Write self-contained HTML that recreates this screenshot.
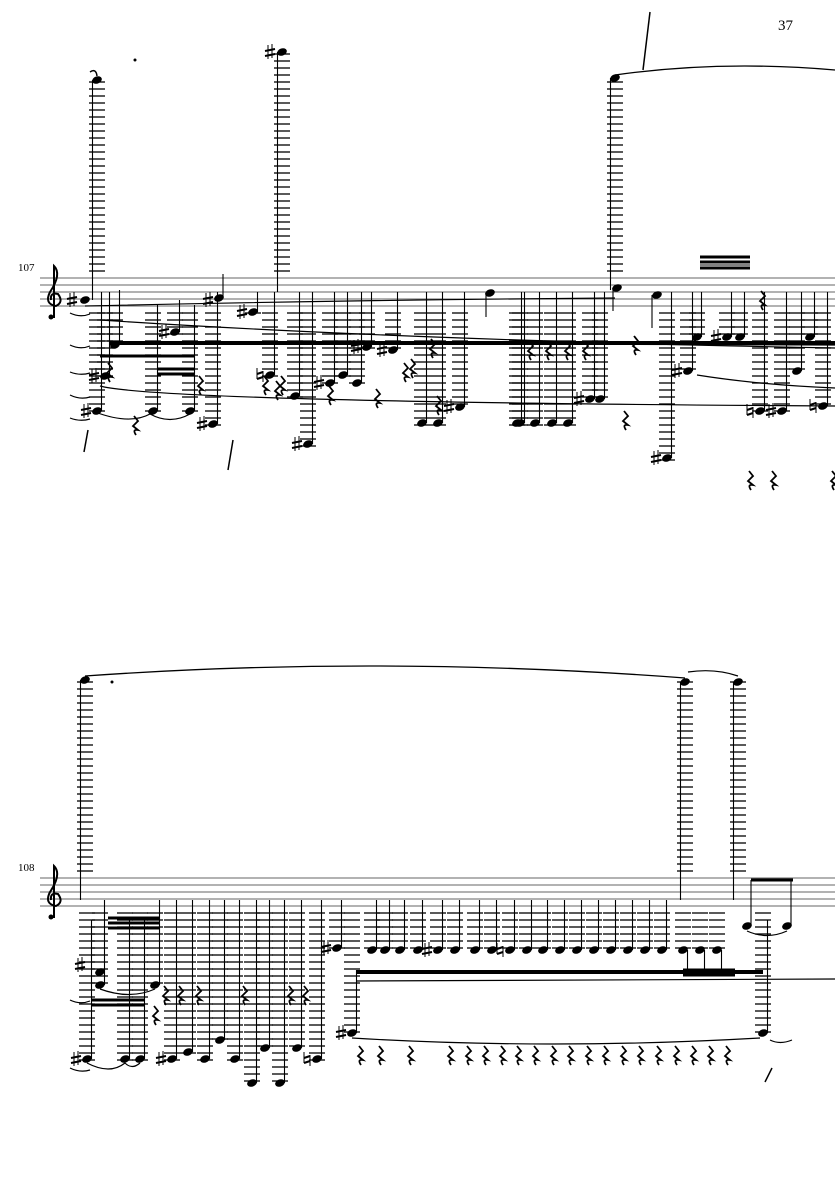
<!DOCTYPE html>
<html><head><meta charset="utf-8"><style>
html,body{margin:0;padding:0;background:#fff}
svg{display:block}
</style></head><body>
<svg id="s" width="835" height="1181" viewBox="0 0 835 1181" xmlns="http://www.w3.org/2000/svg">
<rect width="835" height="1181" fill="#fff"/>
<text x="778" y="30" font-family="Liberation Serif, serif" font-size="15">37</text>
<text x="18" y="271" font-family="Liberation Serif, serif" font-size="11">107</text>
<text x="18" y="871" font-family="Liberation Serif, serif" font-size="11">108</text>
<g id="g"></g>
</svg>
<script>
var g=document.getElementById('g'),out='';
function L(x1,y1,x2,y2,w,c){out+='<line x1="'+x1+'" y1="'+y1+'" x2="'+x2+'" y2="'+y2+'" stroke="'+(c||'#000')+'" stroke-width="'+(w||1)+'"/>';}
function P(d,w,f){out+='<path d="'+d+'" fill="'+(f||'none')+'" stroke="#000" stroke-width="'+(w||1)+'"/>';}
function head(x,y){out+='<ellipse cx="'+x+'" cy="'+y+'" rx="5" ry="3.6" transform="rotate(-20 '+x+' '+y+')" fill="#000"/>';}
function sharp(x,y){L(x-2,y-7,x-2,y+7,1);L(x+2,y-8,x+2,y+6,1);L(x-5,y-1,x+5,y-3,2);L(x-5,y+4,x+5,y+2,2);}
function nat(x,y){L(x-3,y-7,x-3,y+4,1);L(x+3,y-4,x+3,y+7,1);L(x-3,y-1,x+3,y-3,2);L(x-3,y+4,x+3,y+2,2);}
function rest(x,y){P('M'+(x-1)+' '+(y-9)+' L'+(x+3)+' '+(y-4)+' L'+(x-2)+' '+(y+1)+' L'+(x+3)+' '+(y+5)+' Q'+(x-3)+' '+(y+4)+' '+(x+1)+' '+(y+10),1.8);}
function staff(y0){for(var i=0;i<5;i++)L(40,y0+i*7,835,y0+i*7,1,'#666');
 // clef
 var cx=52;P('M'+(cx+2)+' '+(y0+40)+' L'+(cx+2)+' '+(y0-12)+' Q'+(cx+10)+' '+(y0-4)+' '+(cx-2)+' '+(y0+14)+' Q'+(cx-8)+' '+(y0+26)+' '+(cx+4)+' '+(y0+28)+' Q'+(cx+12)+' '+(y0+24)+' '+(cx+6)+' '+(y0+16)+' Q'+(cx-2)+' '+(y0+14)+' '+(cx-1)+' '+(y0+22),2);
 out+='<circle cx="'+(cx-1)+'" cy="'+(y0+39)+'" r="2.5"/>';}
// low note with ledger lines below staff, stem up
function low(x,y,top,st,acc,bot){var b=bot||(st+28);for(var ly=b+7;ly<=y+2;ly+=7)L(x-8,ly,x+8,ly,1.3);head(x,y);L(x+4.5,y,x+4.5,top,1.1);if(acc=='#')sharp(x-11,y);if(acc=='n')nat(x-10,y);}
function high(x,y,st,bot,acc){for(var ly=st-7;ly>=y-2;ly-=7)L(x-8,ly,x+8,ly,1.3);head(x,y);L(x-4.5,y,x-4.5,bot,1.1);if(acc=='#')sharp(x-12,y);}
var S1=278,S2=878;
staff(S1);staff(S2);
// ===== system 1 =====
high(97,80,S1,300);high(282,52,S1,292,'#');high(615,78,S1,290);
P('M90 72 Q96 68 97 76',1.5);
out+='<circle cx="135" cy="60" r="1.5"/>';
var n1=[[97,411,292,'#'],[105,376,292,'#'],[115,345,290,''],[153,411,305,''],[175,332,300,'#'],[190,411,305,''],[213,424,292,'#'],[253,312,292,'#'],[270,375,292,'n'],[295,396,292,''],[308,444,292,'#'],[330,383,292,'#'],[343,375,292,''],[357,383,292,''],[367,347,292,'#'],[393,350,292,'#'],[422,423,292,''],[438,423,292,''],[460,407,292,'#'],[517,423,292,''],[520,423,292,''],[535,423,292,''],[552,423,292,''],[568,423,292,''],[590,399,292,'#'],[600,399,292,''],[667,458,292,'#'],[688,371,292,'#'],[697,337,292,''],[727,337,292,'#'],[740,337,292,''],[760,411,292,'n'],[782,411,292,'#'],[797,371,292,''],[810,337,292,''],[823,406,292,'n']];
n1.forEach(function(n){low(n[0],n[1],n[2],S1,n[3]);});
head(219,298);L(223,298,223,274,1.1);sharp(208,300);
head(490,293);L(486,293,486,317,1.1);head(617,288);L(613,288,613,311,1.1);
head(85,300);sharp(72,300);
head(657,295);L(652,295,652,328,1.1);
// beams & slurs sys1
L(110,343,835,343,4);L(100,356,195,356,3);L(158,369,195,369,3);L(158,374,195,374,3);
L(160,343,835,345,1.2);
P('M85 306 Q350 300 615 298',1.2);P('M100 320 Q400 340 835 348',1.2);
P('M100 386 Q160 402 835 406',1.2);P('M697 375 Q760 385 835 388',1.2);
P('M615 75 Q720 60 835 70',1.3);P('M95 412 Q130 425 150 414 Q170 425 190 414',1.2);
L(700,265,750,265,1);L(700,262,750,262,3);L(700,257,750,257,3);L(700,268,750,268,3);
P('M70 313 Q80 318 90 314',1.2);P('M70 345 Q80 350 90 346',1.2);P('M70 372 Q80 376 90 373',1.2);P('M70 395 Q80 400 90 397',1.2);P('M70 418 Q80 422 90 419',1.2);
[[109,372],[200,385],[265,385],[282,385],[277,390],[330,395],[377,398],[405,372],[412,368],[432,348],[438,405],[530,350],[548,350],[567,350],[585,350],[625,420],[635,345],[750,480],[773,480],[833,480],[135,425],[762,300]].forEach(function(r){rest(r[0],r[1]);});
P('M88 430 L84 452',1.5);P('M233 440 L228 470',1.5);P('M650 12 L643 70',1.5);
// ===== system 2 =====
high(85,680,S2,900);high(685,682,S2,900);high(738,682,S2,900);
P('M85 676 Q380 655 685 678',1.3);P('M688 672 Q715 668 738 676',1.2);
out+='<circle cx="112" cy="682" r="1.5"/>';
var n2=[[100,985,900,''],[155,985,900,''],[87,1059,920,'#'],[125,1059,920,''],[140,1059,920,''],[172,1059,900,'#'],[188,1052,900,''],[205,1059,900,''],[220,1040,900,''],[235,1059,900,''],[252,1083,900,''],[265,1048,900,''],[280,1083,900,''],[297,1048,900,''],[317,1059,900,'n'],[337,948,900,'#'],[352,1033,970,'#'],[763,1033,920,'']];
n2.forEach(function(n){low(n[0],n[1],n[2],S2,n[3]);});
var xs=[372,385,400,418,438,455,475,492,510,527,543,560,577,594,611,628,645,662,683,700,717];
xs.forEach(function(x,i){low(x,950,(i>=18?975:900),S2,(i==4?'#':(i==8?'n':'')));});
head(747,926);head(787,926);L(751,926,751,880,1.1);L(791,926,791,880,1.1);L(751,880,793,880,3);
head(100,972);sharp(80,965);
L(108,918,160,918,3);L(108,923,160,923,3);L(108,928,160,928,3);
L(92,1000,145,1000,3);L(92,1005,145,1005,3);
L(356,972,763,972,4);L(356,981,835,979,1.2);L(683,975,735,975,3);L(683,970,735,970,3);
P('M352 1038 Q550 1050 760 1038',1.2);P('M100 989 Q130 1000 155 989',1.2);P('M87 1063 Q110 1075 125 1063 Q132 1070 140 1063',1.2);
P('M747 931 Q767 940 787 931',1.2);P('M770 1040 Q780 1045 792 1040',1.2);
P('M70 1000 Q80 1005 90 1001',1.2);P('M70 1068 Q80 1073 90 1070',1.2);
[[165,995],[180,995],[198,995],[244,995],[290,995],[305,995],[360,1055],[380,1055],[410,1055],[450,1055],[468,1055],[485,1055],[502,1055],[518,1055],[535,1055],[553,1055],[570,1055],[588,1055],[605,1055],[623,1055],[640,1055],[658,1055],[676,1055],[693,1055],[710,1055],[727,1055],[155,1015]].forEach(function(r){rest(r[0],r[1]);});
P('M772 1068 L765 1082',1.5);
g.innerHTML=out;
</script>
</body></html>
